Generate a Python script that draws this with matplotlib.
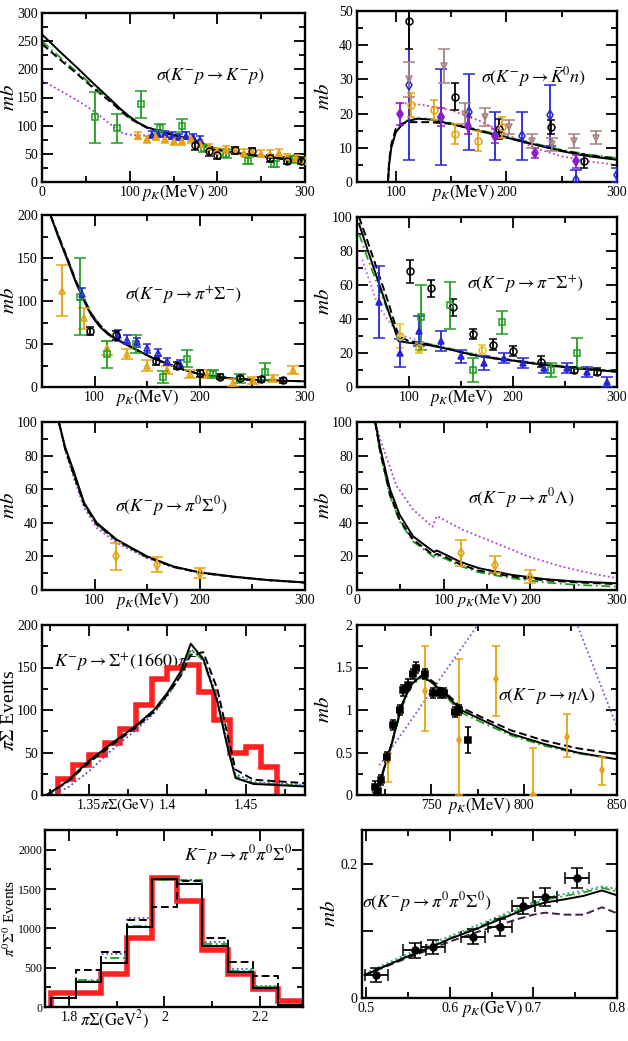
import numpy as np
import matplotlib
matplotlib.use('Agg')
import matplotlib.pyplot as plt
from matplotlib.ticker import MultipleLocator, FuncFormatter

plt.rcParams['font.family'] = ['Liberation Serif', 'DejaVu Serif']
plt.rcParams['mathtext.fontset'] = 'stix'

# ---------------- colours ----------------
GREEN = '#1f9e1f'
BLUE = '#2525d8'
ORANGE = '#e8a010'
PURPLE = '#a040d0'
VIOLET = '#8a1ecc'
BROWN = '#a88080'
RED = '#ff2020'

# ================= DATA =================
# Panel a: K- p -> K- p
a_cx = [0, 20, 40, 60, 80, 90, 100, 110, 120, 140, 160, 180, 200, 220, 240, 260, 280, 300]
a_solid = [262, 232, 203, 173, 144, 129, 116, 105, 97, 88, 80, 70, 58, 52, 48, 44, 41, 38]
a_dash = [245, 218, 192, 165, 140, 126, 113, 104, 96, 87, 79, 69, 57, 51, 47, 43, 40, 37]
a_green = [250, 222, 195, 168, 142, 127, 114, 105, 97, 88, 80, 70, 58, 52, 48, 44, 41, 38]
a_dot = [180, 163, 145, 125, 100, 88, 84, 83, 83, 84, 80, 70, 58, 52, 47, 43, 40, 37]
a_gx = [60, 85, 113, 135, 160, 185, 210, 235, 265, 285]
a_gy = [115, 95, 138, 95, 100, 60, 50, 38, 32, 40]
a_ge = [45, 25, 24, 8, 12, 6, 8, 6, 6, 6]
a_bx = [125, 132, 140, 148, 156, 164, 172, 180]
a_by = [84, 86, 85, 82, 80, 82, 80, 75]
a_be = [6, 6, 6, 6, 6, 6, 6, 6]
a_ox = [110, 120, 130, 140, 150, 160, 170, 180, 190, 200, 210, 220, 230, 240, 250, 260, 270, 280, 290, 300]
a_oy = [82, 76, 80, 76, 72, 72, 76, 68, 62, 55, 58, 56, 52, 55, 50, 50, 52, 44, 42, 38]
a_oe = [6] * 20
a_kx = [175, 190, 200, 220, 240, 260, 280, 295]
a_ky = [65, 55, 48, 56, 55, 42, 38, 38]
a_ke = [8, 8, 8, 6, 6, 6, 6, 6]

# Panel b: K- p -> K0bar n
b_cx = [93, 94, 96, 100, 105, 110, 120, 130, 150, 175, 200, 225, 250, 275, 300]
b_solid = [0, 5, 10, 14.5, 16.5, 17.8, 18.5, 18.3, 17, 15, 13, 11, 9, 7.5, 6.5]
b_dash = [0, 6, 11, 15.5, 17, 17.5, 17.5, 17.5, 17, 15, 13, 11, 9.2, 7.8, 6.8]
b_green = [0, 5, 10, 14.5, 16.7, 18, 18.6, 18.5, 17.2, 15.3, 13.3, 11.3, 9.4, 8, 7]
b_dx = [100, 110, 125, 150, 175, 200, 225, 250, 275, 300]
b_dot = [23, 23, 22.5, 21, 18, 14, 10, 7.5, 6, 5]
b_kx = [112, 154, 193, 240, 270]
b_ky = [47, 25, 15.5, 16, 6]
b_ke = [8, 4, 3, 2, 2]
b_bx = [112, 141, 166, 190, 214, 239, 263, 300]
b_by = [28.5, 19, 20.5, 13.5, 13.5, 19.5, 0.5, 2]
b_be = [22, 14, 11, 7, 7, 9, 3, 2]
b_ox = [114, 135, 154, 174, 196]
b_oy = [22.5, 21, 14, 12, 16]
b_oe = [3.5, 3, 3, 3, 3]
b_px = [104, 141, 165, 190, 226, 263]
b_py = [20, 19, 16.5, 13.5, 8.5, 6]
b_pe = [3.2, 2.5, 2.5, 2, 1.5, 2]
b_tx = [112, 144, 163, 181, 202, 223, 241, 261, 281]
b_ty = [30, 34, 20, 19, 16, 12, 11, 12, 13]
b_te = [5, 5, 3, 2.5, 2, 2, 2, 2, 2]

# Panel c: K- p -> pi+ Sigma-
c_cx = [58, 65, 74, 82, 90, 97, 105, 113, 121, 137, 153, 169, 185, 200, 216, 232, 248, 264, 280, 300]
c_solid = [200, 176, 148, 122, 100, 83, 70, 61, 55, 45, 35, 27, 20, 15, 12, 9.7, 8.5, 7.8, 7.2, 6.6]
c_dash = [200, 178, 150, 124, 102, 85, 72, 62, 56, 45, 35, 27, 20, 15, 12, 9.7, 8.5, 7.8, 7.2, 6.6]
c_ox = [69, 90, 112, 131, 150, 169, 191, 207, 232, 251, 270, 289]
c_oy = [112, 80, 45, 38, 25, 20, 15, 15, 5, 8, 10, 20]
c_oe = [30, 12, 8, 6, 6, 5, 5, 5, 4, 4, 4, 5]
c_gx = [86, 112, 139, 165, 188, 213, 238, 262]
c_gy = [105, 38, 50, 12, 33, 15, 10, 18]
c_ge = [45, 16, 11, 7, 10, 5, 5, 10]
c_bx = [88, 122, 131, 140, 150, 160, 169, 181]
c_by = [108, 60, 55, 52, 45, 40, 30, 27]
c_be = [7, 6, 5, 5, 5, 4, 4, 4]
c_kx = [96, 120, 158, 178, 200, 219, 238, 258, 279]
c_ky = [65, 60, 30, 25, 16, 12, 10, 9, 8]
c_ke = [5, 5, 4, 4, 4, 3, 3, 3, 3]

# Panel d: K- p -> pi- Sigma+
d_cx = [52, 60, 70, 80, 90, 100, 120, 140, 160, 180, 200, 230, 260, 300]
d_solid = [96, 81, 63, 45, 27, 26, 24.5, 22, 19, 17, 15.5, 13, 11, 9]
d_dash = [100, 86, 68, 50, 30, 27, 25, 22, 19, 17, 15.5, 13, 11, 9]
d_green = [90, 76, 60, 44, 28, 27, 25, 22.5, 19.5, 17.5, 16, 13.5, 11.5, 9.5]
d_dx = [55, 70, 85, 95, 110, 140, 200, 300]
d_dot = [75, 48, 35, 30, 27, 22, 15.5, 9]
d_bx = [71, 91, 110, 131, 150, 172, 191, 210, 230, 252, 271, 290]
d_by = [50, 20, 33, 27, 18, 14, 17, 14, 11, 11, 9, 3]
d_be = [21, 8, 9, 6, 4, 4, 3, 3, 3, 3, 3, 3]
d_kx = [101, 121, 142, 162, 181, 200, 227, 259, 281]
d_ky = [68, 58, 47, 31, 25, 21, 15, 10, 9]
d_ke = [7, 5, 5, 3, 3, 3, 3, 2, 2]
d_gx = [112, 139, 162, 189, 237, 262]
d_gy = [41, 48, 10, 38, 10, 20]
d_ge = [19, 14, 7, 7, 4, 9]
d_ox = [91, 110, 170]
d_oy = [30, 23, 22]
d_oe = [7, 3, 3]

# Panel e: K- p -> pi0 Sigma0
e_cx = [66, 72, 80, 90, 102, 121, 150, 175, 200, 232, 264, 300]
e_solid = [100, 85, 71, 52, 40, 30, 20, 14, 10.5, 8, 6, 4.5]
e_dash = [100, 84, 69, 51, 39, 29.5, 19.5, 13.7, 10.3, 7.8, 5.9, 4.4]
e_dot = [100, 83, 67, 49, 37, 28, 19, 13.5, 10.2, 7.8, 5.9, 4.4]
e_ox = [120, 159, 200]
e_oy = [20, 15, 10]
e_oe = [8, 4.5, 3]

# Panel f: K- p -> pi0 Lambda
f_cx = [21, 26.6, 38, 49, 64.6, 80, 89, 92, 102.5, 118, 140.5, 178.5, 216.5, 254.5, 300]
f_solid = [100, 85, 60, 45, 32, 26, 22.6, 23.5, 21, 17, 13, 9, 6.5, 5, 4]
f_dash = [100, 83, 57, 42, 30, 24, 20.5, 21.5, 19.5, 15.5, 11.5, 8, 5.8, 4.5, 3.5]
f_green = [100, 82, 56, 41, 29, 23, 19.5, 20.5, 18.5, 14.5, 10.5, 7, 4.5, 3, 2]
f_dx = [21, 26.6, 45.6, 64.6, 87, 92, 121.5, 159.5, 197.5, 235.5, 273.5, 300]
f_dot = [100, 90, 62, 48, 37.6, 44, 36, 28, 20, 14, 9.5, 7]
f_ox = [119.6, 159.5, 199.4]
f_oy = [22, 15, 8]
f_oe = [7.5, 5, 4]

# Panel g: K- p -> Sigma+(1660) pi-  (pi Sigma invariant mass)
g_edges = [1.33, 1.34, 1.35, 1.36, 1.37, 1.38, 1.39, 1.40, 1.41, 1.42, 1.43, 1.44, 1.45, 1.46, 1.47]
g_hist = [19, 35, 47, 61, 78, 106, 137, 149, 153, 121, 88, 49, 57, 33]
g_cx = [1.323, 1.336, 1.35, 1.364, 1.379, 1.3915, 1.40, 1.4085, 1.415, 1.423, 1.432, 1.438, 1.4436, 1.455, 1.488]
g_solid = [0, 16, 40, 60, 80, 100, 120, 145, 178, 160, 110, 60, 20, 13, 10]
g_dash = [0, 15, 38, 58, 78, 98, 118, 140, 165, 168, 125, 75, 30, 18, 14]
g_green = [0, 16, 40, 60, 80, 98, 117, 140, 172, 158, 110, 62, 22, 14, 11]
g_dot = [0, 8, 28, 52, 75, 96, 116, 140, 170, 162, 115, 65, 25, 15, 12]

# Panel h: K- p -> eta Lambda
h_cx = [719, 723, 728.6, 734, 739, 744.6, 750, 757, 766, 778.6, 793, 810.7, 828.6, 850]
h_solid = [0, 0.2, 0.6, 1.05, 1.3, 1.4, 1.33, 1.2, 1.0, 0.87, 0.72, 0.6, 0.5, 0.42]
h_dash = [0, 0.2, 0.6, 1.05, 1.3, 1.4, 1.35, 1.22, 1.03, 0.9, 0.76, 0.64, 0.55, 0.48]
h_green = [0, 0.2, 0.58, 1.02, 1.28, 1.38, 1.32, 1.18, 0.97, 0.84, 0.70, 0.58, 0.49, 0.42]
h_dx = [722, 727, 775, 790, 810, 828.6, 850]
h_dot = [0.35, 0.5, 2.0, 2.4, 2.4, 2.0, 0.8]
h_kx = [719.6, 721.4, 723, 726, 729.5, 733, 735, 737.5, 740, 742, 746.4, 751, 754.5, 757, 762.5, 765, 769.6]
h_ky = [0.1, 0.05, 0.18, 0.45, 0.82, 1.0, 1.23, 1.3, 1.42, 1.5, 1.42, 1.2, 1.2, 1.2, 0.98, 1.0, 0.65]
h_ke = [0.06] * 16 + [0.15]
h_ox = [726.8, 746.4, 765, 785, 804.5, 823, 842]
h_oy = [0.4, 1.22, 0.65, 1.37, 0.0, 0.68, 0.3]
h_olo = [0.25, 0.47, 0.65, 0.44, 0.0, 0.23, 0.18]
h_ohi = [0.1, 0.53, 0.95, 0.38, 0.55, 0.27, 0.15]

# Panel i: K- p -> pi0 pi0 Sigma0 (pi Sigma mass squared)
i_edges = [1.762, 1.815, 1.868, 1.921, 1.974, 2.027, 2.079, 2.132, 2.185, 2.238, 2.291]
i_red = [180, 180, 420, 880, 1640, 1350, 720, 420, 230, 80]
i_solid = [110, 320, 560, 1020, 1630, 1560, 780, 440, 240, 30]
i_dash = [120, 470, 700, 1100, 1270, 1600, 880, 570, 390, 30]
i_green = [110, 340, 620, 1030, 1620, 1610, 800, 460, 250, 30]
i_dot = [110, 330, 680, 1130, 1620, 1620, 830, 480, 270, 30]

# Panel j: sigma(K- p -> pi0 pi0 Sigma0)
j_x = [0.512, 0.558, 0.58, 0.628, 0.66, 0.688, 0.714, 0.752]
j_y = [0.034, 0.071, 0.076, 0.091, 0.1055, 0.1375, 0.15, 0.179]
j_ye = [0.01, 0.011, 0.011, 0.011, 0.0125, 0.012, 0.013, 0.015]
j_xe = [0.014] * 8
j_cx = [0.498, 0.52, 0.55, 0.58, 0.6, 0.63, 0.65, 0.68, 0.7, 0.714, 0.738, 0.76, 0.782, 0.802]
j_solid = [0.034, 0.046, 0.062, 0.077, 0.088, 0.102, 0.112, 0.127, 0.137, 0.142, 0.147, 0.152, 0.16, 0.152]
j_green = [0.034, 0.046, 0.063, 0.078, 0.089, 0.104, 0.114, 0.13, 0.14, 0.146, 0.152, 0.157, 0.164, 0.158]
j_dot = [0.036, 0.049, 0.066, 0.082, 0.092, 0.107, 0.117, 0.133, 0.143, 0.149, 0.155, 0.16, 0.166, 0.162]
j_dash = [0.034, 0.045, 0.06, 0.074, 0.084, 0.097, 0.105, 0.117, 0.124, 0.127, 0.124, 0.124, 0.135, 0.125]

# ================= FIGURE =================
W, H = 628, 1041
fig = plt.figure(figsize=(W / 100, H / 100), dpi=100)


def add_ax(x0, y0, x1, y1):
    return fig.add_axes([x0 / W, 1 - y1 / H, (x1 - x0) / W, (y1 - y0) / H])


def fmt_g(v, pos):
    return '%g' % round(v, 6)


def style(ax, xlim, ylim, xmaj, xmin, ymaj, ymin, xlabel, xpos, ylabel,
          yl_right=19, ylsize=15, xlsize=12):
    ax.set_xlim(*xlim)
    ax.set_ylim(*ylim)
    ax.xaxis.set_major_locator(MultipleLocator(xmaj))
    ax.xaxis.set_minor_locator(MultipleLocator(xmin))
    ax.yaxis.set_major_locator(MultipleLocator(ymaj))
    ax.yaxis.set_minor_locator(MultipleLocator(ymin))
    ax.xaxis.set_major_formatter(FuncFormatter(fmt_g))
    ax.yaxis.set_major_formatter(FuncFormatter(fmt_g))
    ax.tick_params(which='both', direction='in', top=True, right=True,
                   labelsize=10, width=1.3, pad=3)
    ax.tick_params(which='major', length=8)
    ax.tick_params(which='minor', length=4)
    for s in ax.spines.values():
        s.set_linewidth(1.7)
    ax.annotate(xlabel, xy=(xpos, 0), xycoords='axes fraction',
                xytext=(0, -1), textcoords='offset points',
                ha='center', va='top', fontsize=xlsize)
    ax.set_ylabel(ylabel, fontsize=ylsize)
    # position the right edge of the rotated label at pixel column yl_right
    bb = ax.get_position()
    x0 = bb.x0 * W
    ax.yaxis.set_label_coords((yl_right - x0) / (bb.width * W), 0.5)


def lines(ax, x, solid=None, dash=None, green=None, dot=None, dx=None,
          dotc=PURPLE):
    if dot is not None:
        ax.plot(dx if dx is not None else x, dot, color=dotc, ls=(0, (1, 1.5)), lw=1.3, zorder=2)
    if green is not None:
        ax.plot(x, green, color=GREEN, ls=(0, (5, 2, 1, 2)), lw=1.3, zorder=2)
    if dash is not None:
        ax.plot(x, dash, color='black', ls=(0, (4, 2)), lw=1.4, zorder=2)
    if solid is not None:
        ax.plot(x, solid, color='black', ls='-', lw=1.4, zorder=2)


def eb(ax, x, y, err, color, marker, ms=5, filled=False, xerr=None, cap=3):
    ax.errorbar(x, y, yerr=err, xerr=xerr, fmt=marker, color=color,
                mfc=color if filled else 'none', mec=color, ms=ms,
                capsize=cap, elinewidth=1.3, capthick=1.3, mew=1.1, zorder=3)


PK = r'$p_K(\mathrm{MeV})$'
MB = r'$mb$'
RX = 617  # right edge of the right-hand panels

# ---- a ----
ax = add_ax(42, 13, 305, 182)
style(ax, (0, 300), (0, 300), 100, 50, 50, 25, PK, 0.5, MB)
lines(ax, a_cx, a_solid, a_dash, a_green, a_dot)
eb(ax, a_gx, a_gy, a_ge, GREEN, 's', cap=4)
eb(ax, a_bx, a_by, a_be, BLUE, '^', filled=True)
eb(ax, a_ox, a_oy, a_oe, ORANGE, '^', filled=True)
eb(ax, a_kx, a_ky, a_ke, 'black', 'o')
ax.text(0.64, 0.63, r'$\sigma(K^{-}p\rightarrow K^{-}p)$', transform=ax.transAxes,
        ha='center', va='center', fontsize=13)

# ---- b ----
ax = add_ax(357, 11, RX, 182)
style(ax, (65, 300), (0, 50), 100, 50, 10, 5, PK, 0.41, MB, yl_right=334)
lines(ax, b_cx, b_solid, b_dash, b_green, b_dot, dx=b_dx, dotc='#d040a0')
eb(ax, b_bx, b_by, b_be, BLUE, 'd', cap=4)
eb(ax, b_kx, b_ky, b_ke, 'black', 'o')
eb(ax, b_ox, b_oy, b_oe, ORANGE, 'o')
eb(ax, b_px, b_py, b_pe, VIOLET, 'd', filled=True)
eb(ax, b_tx, b_ty, b_te, BROWN, 'v', cap=4)
ax.text(0.68, 0.61, r'$\sigma(K^{-}p\rightarrow \bar{K}^{0}n)$', transform=ax.transAxes,
        ha='center', va='center', fontsize=13)

# ---- c ----
ax = add_ax(42, 215, 305, 387)
style(ax, (50, 300), (0, 200), 100, 50, 50, 25, PK, 0.40, MB)
lines(ax, c_cx, c_solid, c_dash, c_dash, c_dash)
eb(ax, c_ox, c_oy, c_oe, ORANGE, '^', cap=4)
eb(ax, c_gx, c_gy, c_ge, GREEN, 's', cap=4)
eb(ax, c_bx, c_by, c_be, BLUE, '^')
eb(ax, c_kx, c_ky, c_ke, 'black', 'o')
ax.text(0.54, 0.53, r'$\sigma(K^{-}p\rightarrow \pi^{+}\Sigma^{-})$', transform=ax.transAxes,
        ha='center', va='center', fontsize=13)

# ---- d ----
ax = add_ax(357, 217, RX, 387)
style(ax, (50, 300), (0, 100), 100, 50, 20, 10, PK, 0.40, MB, yl_right=334)
lines(ax, d_cx, d_solid, d_dash, d_green, d_dot, dx=d_dx, dotc='#c070e0')
eb(ax, d_ox, d_oy, d_oe, '#e8c020', 'o')
eb(ax, d_bx, d_by, d_be, BLUE, '^', filled=True, cap=4)
eb(ax, d_kx, d_ky, d_ke, 'black', 'o')
eb(ax, d_gx, d_gy, d_ge, GREEN, 's', cap=4)
ax.text(0.65, 0.60, r'$\sigma(K^{-}p\rightarrow \pi^{-}\Sigma^{+})$', transform=ax.transAxes,
        ha='center', va='center', fontsize=13)

# ---- e ----
ax = add_ax(42, 422, 305, 590)
style(ax, (50, 300), (0, 100), 100, 50, 20, 10, PK, 0.40, MB)
lines(ax, e_cx, e_solid, e_dash, e_dash, e_dot)
eb(ax, e_ox, e_oy, e_oe, ORANGE, 'd', cap=4)
ax.text(0.49, 0.50, r'$\sigma(K^{-}p\rightarrow \pi^{0}\Sigma^{0})$', transform=ax.transAxes,
        ha='center', va='center', fontsize=13)

# ---- f ----
ax = add_ax(357, 422, RX, 590)
style(ax, (0, 300), (0, 100), 100, 50, 20, 10, PK, 0.50, MB, yl_right=334, xlsize=11.5)
lines(ax, f_cx, f_solid, f_dash, f_green, f_dot, dx=f_dx, dotc='#b040d0')
eb(ax, f_ox, f_oy, f_oe, ORANGE, 'd', cap=4)
ax.text(0.63, 0.545, r'$\sigma(K^{-}p\rightarrow \pi^{0}\Lambda)$', transform=ax.transAxes,
        ha='center', va='center', fontsize=13)

# ---- g ----
ax = add_ax(42, 625, 305, 795)
style(ax, (1.32, 1.488), (0, 200), 0.05, 0.025, 50, 25,
      r'$\pi\Sigma(\mathrm{GeV})$', 0.327, r'$\pi\Sigma$ Events', yl_right=18, ylsize=14,
      xlsize=10.5)
ax.stairs(g_hist, g_edges, color=RED, lw=4, zorder=1)
lines(ax, g_cx, g_solid, g_dash, g_green, g_dot, dotc='#5050d0')
ax.text(0.045, 0.78, r'$K^{-}p\rightarrow \Sigma^{+}(1660)\pi^{-}$', transform=ax.transAxes,
        ha='left', va='center', fontsize=13, zorder=0)

# ---- h ----
ax = add_ax(357, 625, RX, 795)
style(ax, (710, 850), (0, 2), 50, 25, 0.5, 0.25, PK, 0.47, MB, yl_right=334)
lines(ax, h_cx, h_solid, h_dash, h_green, h_dot, dx=h_dx, dotc='#9050d0')
eb(ax, h_ox, h_oy, [h_olo, h_ohi], ORANGE, 'd', ms=4, cap=3)
eb(ax, h_kx, h_ky, h_ke, 'black', 's', ms=4, filled=True, xerr=1.2, cap=2)
ax.text(0.73, 0.58, r'$\sigma(K^{-}p\rightarrow \eta\Lambda)$', transform=ax.transAxes,
        ha='center', va='center', fontsize=13)

# ---- i ----
ax = add_ax(45, 830, 303, 1007)
style(ax, (1.75, 2.29), (0, 2250), 0.2, 0.1, 500, 250,
      r'$\pi\Sigma(\mathrm{GeV}^{2})$', 0.27, r'$\pi^{0}\Sigma^{0}$ Events', yl_right=18, ylsize=11)
ax.tick_params(axis='y', labelsize=8.5, pad=2)
ax.stairs(i_red, i_edges, color=RED, lw=4, zorder=1)
ax.stairs(i_dot, i_edges, color='#6060d0', ls=(0, (1, 1.5)), lw=1.3, zorder=2)
ax.stairs(i_green, i_edges, color=GREEN, ls=(0, (5, 2, 1, 2)), lw=1.3, zorder=2)
ax.stairs(i_dash, i_edges, color='black', ls=(0, (4, 2)), lw=1.4, zorder=2)
ax.stairs(i_solid, i_edges, color='black', lw=1.4, zorder=2)
ax.text(0.75, 0.86, r'$K^{-}p\rightarrow \pi^{0}\pi^{0}\Sigma^{0}$', transform=ax.transAxes,
        ha='center', va='center', fontsize=13)

# ---- j ----
ax = add_ax(362, 830, RX, 998)
style(ax, (0.495, 0.8), (0, 0.25), 0.1, 0.05, 0.1, 0.1,
      r'$p_K(\mathrm{GeV})$', 0.51, MB, yl_right=340)
ax.yaxis.set_major_formatter(FuncFormatter(lambda v, p: '' if abs(v - 0.1) < 1e-6 else '%g' % round(v, 6)))
ax.plot(j_cx, j_dot, color='#40a0a0', ls=(0, (1, 1.5)), lw=1.4, zorder=2)
ax.plot(j_cx, j_green, color=GREEN, ls=(0, (5, 2, 1, 2)), lw=1.3, zorder=2)
ax.plot(j_cx, j_dash, color='#402040', ls=(0, (4, 2)), lw=1.4, zorder=2)
ax.plot(j_cx, j_solid, color='black', lw=1.4, zorder=2)
eb(ax, j_x, j_y, j_ye, 'black', 'o', ms=5, filled=True, xerr=j_xe, cap=4)
ax.text(0.0, 0.57, r'$\sigma(K^{-}p\rightarrow \pi^{0}\pi^{0}\Sigma^{0})$', transform=ax.transAxes,
        ha='left', va='center', fontsize=13)

fig.savefig('out.png', dpi=100)
